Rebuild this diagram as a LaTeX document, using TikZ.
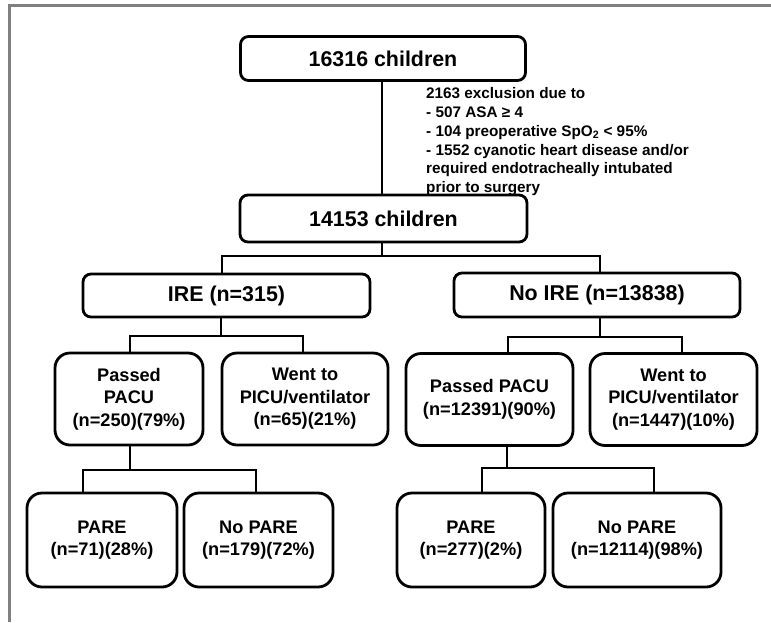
\documentclass[tikz,border=0pt]{standalone}
\usepackage{fontspec}
\setmainfont{Liberation Sans}
\begin{document}
\begin{tikzpicture}[x=1pt,y=-1pt,
  bigbox/.style={draw=black,line width=2.8pt,rounded corners=8pt,inner sep=0pt,
    font=\fontsize{21.4}{25}\selectfont\bfseries,align=center},
  smallbox/.style={draw=black,line width=2.8pt,rounded corners=15pt,inner sep=0pt,
    font=\fontsize{18.2}{22.5}\selectfont\bfseries,align=center,minimum height=92pt},
  conn/.style={draw=black,line width=2.8pt},
  frameline/.style={draw=black!50,line width=3pt}
]
\useasboundingbox (0,0) rectangle (771,622);
\draw[frameline] (771,5) -- (9.5,5) -- (9.5,622);

% top rows
\node[bigbox,minimum width=285pt,minimum height=44pt] (n1) at (383,58.5) {16316 children};
\node[bigbox,minimum width=287pt,minimum height=47pt] (n2) at (383.5,218.5) {14153 children};
\node[bigbox,minimum width=287pt,minimum height=43pt] (ire) at (226.5,295.5) {IRE (n=315)};
\node[bigbox,minimum width=286pt,minimum height=44pt] (noire) at (597,295) {No IRE (n=13838)};

% exclusion text
\node[anchor=north west,inner sep=0pt,align=left,
  font=\fontsize{15.3}{18.8}\selectfont\bfseries] (excl) at (426,87.5)
  {2163 exclusion due to\\
   - 507 ASA ≥ 4\\
   - 104 preoperative SpO\textsubscript{2} < 95\%\\
   - 1552 cyanotic heart disease and/or\\
   required endotracheally intubated\\
   prior to surgery};

% row 4
\node[smallbox,minimum width=148pt] (passL) at (129,399) {Passed\\PACU\\(n=250)(79\%)};
\node[smallbox,minimum width=166pt] (wentL) at (305,399) {Went to\\PICU/ventilator\\(n=65)(21\%)};
\node[smallbox,minimum width=167pt] (passR) at (489.5,399.5) {Passed PACU\\(n=12391)(90\%)};
\node[smallbox,minimum width=167pt] (wentR) at (673.5,399.5) {Went to\\PICU/ventilator\\(n=1447)(10\%)};

% row 5
\node[smallbox,minimum width=150pt,minimum height=94pt] (pareL) at (102,540) {PARE\\(n=71)(28\%)};
\node[smallbox,minimum width=149pt,minimum height=94pt] (nopareL) at (258.5,540) {No PARE\\(n=179)(72\%)};
\node[smallbox,minimum width=148pt,minimum height=94pt] (pareR) at (471,540) {PARE\\(n=277)(2\%)};
\node[smallbox,minimum width=168pt,minimum height=94pt] (nopareR) at (637,540) {No PARE\\(n=12114)(98\%)};

% fork points
\coordinate (c1) at (382,0);
\coordinate (f2) at (382,256);
\coordinate (f2a) at (222,256);
\coordinate (f2b) at (600,256);
\coordinate (f3) at (221,336);
\coordinate (f3a) at (130,336);
\coordinate (f3b) at (303,336);
\coordinate (f4) at (600,337);
\coordinate (f4a) at (508,337);
\coordinate (f4b) at (682,337);
\coordinate (f5) at (130,470);
\coordinate (f5a) at (83,470);
\coordinate (f5b) at (256,470);
\coordinate (f6) at (507,468);
\coordinate (f6a) at (482,468);
\coordinate (f6b) at (654,468);

% connectors
\draw[conn] (n1.south -| c1) -- (n2.north -| c1);
\draw[conn] (n2.south -| f2) -- (f2);
\draw[conn] (f2a |- ire.north) -- (f2a) -- (f2b) -- (f2b |- noire.north);
\draw[conn] (ire.south -| f3) -- (f3);
\draw[conn] (f3a |- passL.north) -- (f3a) -- (f3b) -- (f3b |- wentL.north);
\draw[conn] (noire.south -| f4) -- (f4);
\draw[conn] (f4a |- passR.north) -- (f4a) -- (f4b) -- (f4b |- wentR.north);
\draw[conn] (passL.south -| f5) -- (f5);
\draw[conn] (f5a |- pareL.north) -- (f5a) -- (f5b) -- (f5b |- nopareL.north);
\draw[conn] (passR.south -| f6) -- (f6);
\draw[conn] (f6a |- pareR.north) -- (f6a) -- (f6b) -- (f6b |- nopareR.north);
\end{tikzpicture}
\end{document}
